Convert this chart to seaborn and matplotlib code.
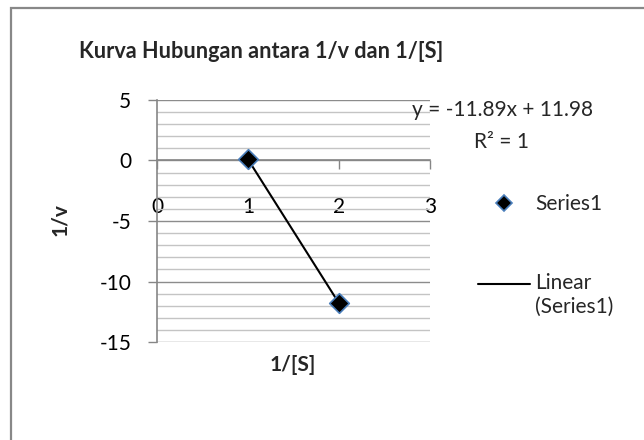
import numpy as np
import pandas as pd
import matplotlib
matplotlib.use("Agg")
import matplotlib.pyplot as plt
from matplotlib.lines import Line2D
from matplotlib.patches import Rectangle
from matplotlib.ticker import MultipleLocator
from matplotlib.legend_handler import HandlerLine2D
import seaborn as sns

# data
inv_s = [1, 2]
inv_v = [0.09, -11.8]
series_name = "Series1"
title_text = "Kurva Hubungan antara 1/v dan 1/[S]"

df = pd.DataFrame({"1/[S]": inv_s, "1/v": inv_v})

# linear trendline, same as Excel's
slope, intercept = np.polyfit(df["1/[S]"], df["1/v"], 1)
trend = pd.DataFrame({"1/[S]": inv_s})
trend["1/v"] = slope * trend["1/[S]"] + intercept

sns.set_theme(style="white")
plt.rcParams["font.family"] = ["Lato", "DejaVu Sans"]
plt.rcParams["axes.unicode_minus"] = False

FS = 15
W, H = 644, 440
fig = plt.figure(figsize=(W / 100, H / 100), dpi=100)
fig.patch.set_facecolor("white")

# chart frame (only left and top edges visible)
fig.add_artist(Rectangle((11 / W, -0.5), 2.0, (H - 8) / H + 0.5,
                         transform=fig.transFigure, fill=False,
                         edgecolor="#888888", linewidth=1.6))

ax = fig.add_axes([157 / W, (H - 342) / H, (430 - 157) / W, (342 - 100) / H])
ax.set_facecolor("white")

sns.lineplot(data=trend, x="1/[S]", y="1/v", ax=ax, color="black",
             linewidth=1.5, zorder=3, legend=False)
sns.scatterplot(data=df, x="1/[S]", y="1/v", ax=ax, marker="D", s=100,
                color="black", edgecolor="#4a7ebb", linewidth=1.2,
                zorder=4, legend=False)

ax.set_xlim(0, 3)
ax.set_ylim(-15, 5)
ax.xaxis.set_major_locator(MultipleLocator(1))
ax.yaxis.set_major_locator(MultipleLocator(5))
ax.yaxis.set_minor_locator(MultipleLocator(1))

ax.grid(False)
ax.grid(which="major", axis="y", color="#8c8c8c", linewidth=1.0, zorder=0)
ax.grid(which="minor", axis="y", color="#c4c4c4", linewidth=1.0, zorder=0)
ax.set_axisbelow(True)

for s in ["top", "right"]:
    ax.spines[s].set_visible(False)
ax.spines["left"].set_color("#868686")
ax.spines["bottom"].set_color("#868686")
ax.spines["bottom"].set_position(("data", 0))
ax.spines["left"].set_linewidth(1.2)
ax.spines["bottom"].set_linewidth(1.2)

ax.tick_params(axis="y", which="major", direction="out", length=6.5, width=1.0,
               color="#868686", pad=12, labelsize=FS, labelcolor="black", left=True)
ax.tick_params(axis="y", which="minor", left=False)
ax.tick_params(axis="x", which="major", direction="out", length=6.5, width=1.0,
               color="#868686", pad=20, labelsize=FS, labelcolor="black", bottom=True)

ax.set_xlabel("")
ax.set_ylabel("")
fig.text(293 / W, 1 - 365 / H, "1/[S]", ha="center", va="center",
         fontsize=FS, fontweight="bold")
fig.text(60 / W, 1 - 220 / H, "1/v", ha="center", va="center",
         fontsize=FS, fontweight="bold", rotation=90)

fig.text(261 / W, 1 - 52 / H, title_text, ha="center", va="center",
         fontsize=15.6, fontweight="bold")

fig.text(502 / W, 1 - 110 / H, f"y = {slope:.2f}x + {intercept:.2f}",
         ha="center", va="center", fontsize=FS)
fig.text(502 / W, 1 - 142 / H, "R² = 1", ha="center", va="center", fontsize=FS)


class FirstLineHandler(HandlerLine2D):
    # put the trendline key level with the first line of its label, like Excel
    def create_artists(self, legend, orig_handle, xdescent, ydescent,
                       width, height, fontsize, trans):
        arts = super().create_artists(legend, orig_handle, xdescent, ydescent,
                                      width, height, fontsize, trans)
        for a in arts:
            a.set_ydata(np.asarray(a.get_ydata()) + 0.58 * fontsize)
        return arts


handles = [
    Line2D([], [], linestyle="none", marker="D", markersize=8,
           markerfacecolor="black", markeredgecolor="#4a7ebb", markeredgewidth=1.2),
    Line2D([], [], color="black", linewidth=1.5),
]
labels = [series_name, f"Linear\n({series_name})"]
ax.legend(handles, labels, loc="upper left", bbox_to_anchor=(478 / W, 1 - 194 / H),
          bbox_transform=fig.transFigure, frameon=False, fontsize=FS,
          handlelength=2.5, handletextpad=0.25, labelspacing=2.85,
          borderaxespad=0, borderpad=0,
          handler_map={handles[1]: FirstLineHandler()})

fig.savefig("out.png", dpi=100)
